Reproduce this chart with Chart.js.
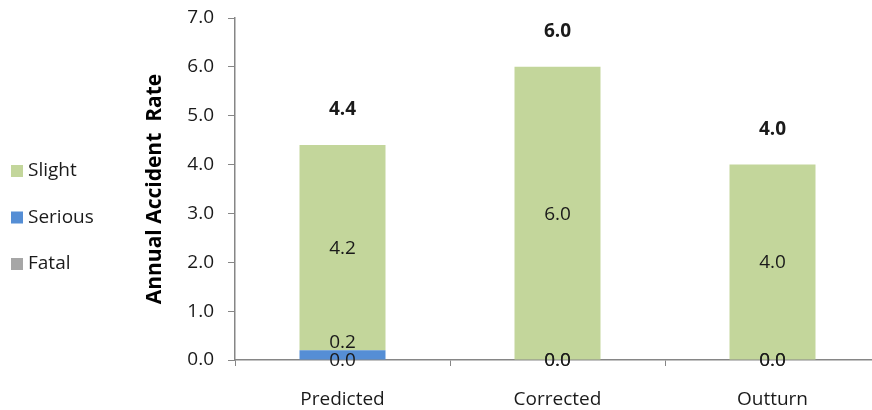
<!DOCTYPE html>
<html>
<head>
<meta charset="utf-8">
<script src="https://cdn.jsdelivr.net/npm/chart.js@4/dist/chart.umd.min.js"></script>
<style>
  html, body { margin: 0; padding: 0; background: #fff; overflow: hidden; }
  #wrap { width: 882px; height: 410px; position: relative; }
</style>
</head>
<body>
<div id="wrap"><canvas id="myChart"></canvas></div>
<script>
// chart data
var categories = ["Predicted", "Corrected", "Outturn"];
var fatalValues = [0.0, 0.0, 0.0];
var seriousValues = [0.2, 0.0, 0.0];
var slightValues = [4.2, 6.0, 4.0];
var totalValues = [4.4, 6.0, 4.0];
var yTicks = [0, 1, 2, 3, 4, 5, 6, 7];

var FONT = "'Open Sans', sans-serif";
var TEXT = "#1a1a1a";
var SIZE = 19;

// segment values + bold totals drawn from the bar elements
var labelPlugin = {
  id: 'barLabels',
  afterDatasetsDraw: function (chart) {
    var ctx = chart.ctx;
    var yScale = chart.scales.y;
    ctx.save();
    ctx.fillStyle = TEXT;
    ctx.textAlign = 'center';
    ctx.textBaseline = 'middle';
    ctx.font = SIZE + "px " + FONT;
    chart.data.datasets.forEach(function (ds, i) {
      var meta = chart.getDatasetMeta(i);
      meta.data.forEach(function (bar, j) {
        var v = ds.data[j];
        var mid = (bar.y + bar.base) / 2;
        if (v > 0) mid = Math.min(mid, bar.base - 18);
        ctx.fillText(v.toFixed(1), bar.x, mid + 1);
      });
    });
    ctx.font = "bold " + SIZE + "px " + FONT;
    var top = chart.getDatasetMeta(chart.data.datasets.length - 1);
    totalValues.forEach(function (t, j) {
      ctx.fillText(t.toFixed(1), top.data[j].x, yScale.getPixelForValue(t) - 35);
    });
    ctx.restore();
  }
};

// legend on the left, top-down: Slight, Serious, Fatal
var sideLegend = {
  id: 'sideLegend',
  afterDraw: function (chart) {
    var ctx = chart.ctx;
    var items = chart.data.datasets.slice().reverse();
    ctx.save();
    ctx.font = SIZE + "px " + FONT;
    ctx.textBaseline = 'middle';
    items.forEach(function (ds, k) {
      var cy = 171 + k * 46.5;
      ctx.fillStyle = ds.backgroundColor;
      ctx.fillRect(11, cy - 6, 12, 12);
      ctx.fillStyle = TEXT;
      ctx.fillText(ds.label, 28, cy);
    });
    ctx.restore();
  }
};

var ctx = document.getElementById('myChart').getContext('2d');
var myChart = new Chart(ctx, {
  type: 'bar',
  data: {
    labels: categories,
    datasets: [{
      label: "Fatal",
      data: fatalValues,
      backgroundColor: "#a6a6a6",
    }, {
      label: "Serious",
      data: seriousValues,
      backgroundColor: "#558ed5",
    }, {
      label: "Slight",
      data: slightValues,
      backgroundColor: "#c3d69b",
    }]
  },
  options: {
    responsive: true,
    maintainAspectRatio: false,
    animation: false,
    categoryPercentage: 0.40,
    barPercentage: 1.0,
    layout: { padding: { left: 140, right: 2, top: 18, bottom: 0 } },
    plugins: {
      legend: { display: false },
      tooltip: { enabled: false }
    },
    scales: {
      x: {
        stacked: true,
        afterFit: function (scale) { scale.height = 50; },
        grid: {
          offset: true,
          drawOnChartArea: false,
          drawTicks: true,
          tickLength: 6,
          color: "#868686"
        },
        border: { color: "#868686", width: 1.5 },
        ticks: { color: TEXT, font: { family: FONT, size: SIZE }, padding: 22 }
      },
      y: {
        stacked: true,
        min: 0,
        max: 7,
        afterBuildTicks: function (scale) {
          scale.ticks = yTicks.map(function (v) { return { value: v }; });
        },
        afterFit: function (scale) {
          scale.width = 95;
          scale.paddingTop = 0;
          scale.paddingBottom = 0;
        },
        grid: {
          drawOnChartArea: false,
          drawTicks: true,
          tickLength: 7,
          color: "#868686"
        },
        border: { color: "#868686", width: 1.5 },
        title: {
          display: true,
          text: "Annual Accident  Rate",
          color: "#000",
          font: { family: FONT, size: 21, weight: 'bold' },
          padding: { top: 2, bottom: 0 }
        },
        ticks: {
          color: TEXT,
          font: { family: FONT, size: SIZE },
          padding: 14,
          callback: function (v) { return Number(v).toFixed(1); }
        }
      }
    }
  },
  plugins: [labelPlugin, sideLegend]
});
</script>
</body>
</html>
